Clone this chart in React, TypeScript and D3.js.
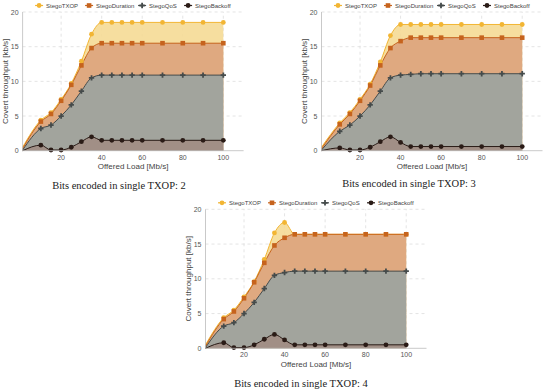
import React from 'react';
import * as d3 from 'd3';

// offered load [Mb/s]
const loads = [1, 10, 15, 20, 25, 30, 35, 40, 45, 50, 55, 60, 70, 80, 90, 100];

const seriesNames = ['StegoTXOP', 'StegoDuration', 'StegoQoS', 'StegoBackoff'];

// bits encoded: 2
const txop2 = [0.5, 4.4, 5.5, 7.4, 9.7, 12.9, 16.8, 18.5, 18.5, 18.5, 18.5, 18.5, 18.5, 18.5, 18.5, 18.5];
const duration2 = [0.3, 4.2, 5.3, 7.2, 9.5, 12.3, 14.8, 15.5, 15.5, 15.5, 15.5, 15.5, 15.5, 15.5, 15.5, 15.5];
const qos2 = [0.1, 3.2, 3.7, 5.0, 6.6, 8.6, 10.5, 10.9, 10.9, 10.9, 10.9, 10.9, 10.9, 10.9, 10.9, 10.9];
const backoff2 = [0.0, 0.8, 0.1, 0.1, 0.5, 1.3, 2.0, 1.5, 1.5, 1.5, 1.5, 1.5, 1.5, 1.5, 1.5, 1.5];

// bits encoded: 3
const txop3 = [0.5, 4.0, 5.5, 7.4, 9.6, 12.8, 16.6, 18.2, 18.2, 18.2, 18.2, 18.2, 18.2, 18.2, 18.2, 18.2];
const duration3 = [0.3, 3.8, 5.3, 7.2, 9.4, 12.3, 14.8, 15.8, 16.3, 16.3, 16.3, 16.3, 16.3, 16.3, 16.3, 16.3];
const qos3 = [0.1, 2.8, 3.7, 5.0, 6.6, 8.6, 10.5, 10.9, 11.0, 11.1, 11.1, 11.1, 11.1, 11.1, 11.1, 11.1];
const backoff3 = [0.0, 0.4, 0.1, 0.1, 0.5, 1.3, 2.0, 1.2, 0.6, 0.6, 0.6, 0.6, 0.6, 0.6, 0.6, 0.6];

// bits encoded: 4
const txop4 = [0.5, 4.4, 5.5, 7.4, 9.6, 12.8, 16.6, 18.1, 16.4, 16.4, 16.4, 16.4, 16.4, 16.4, 16.4, 16.4];
const duration4 = [0.3, 4.2, 5.3, 7.2, 9.5, 12.3, 14.8, 15.9, 16.4, 16.4, 16.4, 16.4, 16.4, 16.4, 16.4, 16.4];
const qos4 = [0.1, 3.2, 3.7, 5.0, 6.6, 8.6, 10.5, 10.9, 11.1, 11.1, 11.1, 11.1, 11.1, 11.1, 11.1, 11.1];
const backoff4 = [0.0, 0.8, 0.1, 0.1, 0.5, 1.3, 2.0, 1.2, 0.5, 0.5, 0.5, 0.5, 0.5, 0.5, 0.5, 0.5];

const xTicks = [20, 40, 60, 80, 100];
const yTicks = [0, 5, 10, 15, 20];

const lineColors = ['#f2b533', '#c6631d', '#454b4b', '#2a1b16'];
const fillColors = ['#f5d992', '#dca27c', '#9aa3a0', '#a08c83'];
const legendOffsets = [0, 50, 103, 149];

if (typeof document !== 'undefined') document.body.style.margin = '0';

function Marker({ kind, x, y }: { kind: number; x: number; y: number }) {
  const c = lineColors[kind];
  if (kind === 1) return <rect x={x - 2.3} y={y - 2.3} width={4.6} height={4.6} fill={c} />;
  if (kind === 2) {
    const p = d3.symbol().type(d3.symbolCross).size(16)();
    return <path d={p || ''} transform={`translate(${x},${y})`} fill={c} />;
  }
  return <circle cx={x} cy={y} r={2.4} fill={c} />;
}

function Panel({ left, top, bottom, series, title, titleX, titleY }: any) {
  const x = d3.scaleLinear().domain([1, 110]).range([left, left + 221]);
  const y = d3.scaleLinear().domain([0, 20]).range([bottom, top]);
  const [x0, x1] = x.range();
  const mid = (x0 + x1) / 2;

  const area = d3.area<number>()
    .x((d, i) => x(loads[i]))
    .y0(y(0))
    .y1(d => y(d))
    .curve(d3.curveMonotoneX);
  const line = d3.line<number>()
    .x((d, i) => x(loads[i]))
    .y(d => y(d))
    .curve(d3.curveMonotoneX);

  const legendStart = mid - 98;

  return (
    <g fontFamily="Liberation Sans, Arial, sans-serif">
      {/* grid */}
      {xTicks.map(t => (
        <line key={'gx' + t} x1={x(t)} x2={x(t)} y1={y(0)} y2={y(20)} stroke="#d8d8d8" strokeWidth={0.7} strokeDasharray="3,3" />
      ))}
      {yTicks.slice(1).map(t => (
        <line key={'gy' + t} x1={x0} x2={x1} y1={y(t)} y2={y(t)} stroke="#d8d8d8" strokeWidth={0.7} strokeDasharray="3,3" />
      ))}

      {series.map((s: number[], k: number) => (
        <path key={'a' + k} d={area(s) || ''} fill={fillColors[k]} fillOpacity={0.88} />
      ))}
      {series.map((s: number[], k: number) => (
        <path key={'l' + k} d={line(s) || ''} fill="none" stroke={lineColors[k]} strokeWidth={1} />
      ))}
      {series.map((s: number[], k: number) => (
        <g key={'m' + k}>
          {s.map((v, i) => i === 0 ? null : <Marker key={i} kind={k} x={x(loads[i])} y={y(v)} />)}
        </g>
      ))}

      {/* axes */}
      <line x1={x0} x2={x0} y1={y(0)} y2={y(20)} stroke="#bbb" strokeWidth={0.8} />
      <line x1={x0} x2={x1} y1={y(0)} y2={y(0)} stroke="#bbb" strokeWidth={0.8} />
      {yTicks.map(t => (
        <text key={'ty' + t} x={x0 - 4} y={y(t) + 2.5} textAnchor="end" fontSize={7} fill="#555">{t}</text>
      ))}
      {xTicks.map(t => (
        <text key={'tx' + t} x={x(t)} y={y(0) + 9} textAnchor="middle" fontSize={7} fill="#555">{t}</text>
      ))}
      <text x={mid} y={y(0) + 18.5} textAnchor="middle" fontSize={8} fill="#444">Offered Load [Mb/s]</text>
      <text transform={`translate(${x0 - 15},${(y(0) + y(20)) / 2}) rotate(-90)`} textAnchor="middle" fontSize={8} fill="#444">
        Covert throughput [kb/s]
      </text>

      {/* legend */}
      {seriesNames.map((n, k) => {
        const lx = legendStart + legendOffsets[k];
        const ly = top - 6.5;
        return (
          <g key={'lg' + k}>
            <line x1={lx} x2={lx + 8} y1={ly} y2={ly} stroke={lineColors[k]} strokeWidth={1.2} />
            <Marker kind={k} x={lx + 4} y={ly} />
            <text x={lx + 11} y={ly + 2.2} fontSize={6} fill="#444">{n}</text>
          </g>
        );
      })}

      <text x={titleX} y={titleY} textAnchor="middle" fontSize={10.5} fill="#222" fontFamily="Liberation Serif, serif">
        {title}
      </text>
    </g>
  );
}

export default function App() {
  return (
    <svg width={550} height={392} style={{ display: 'block', background: '#fff' }}>
      <Panel left={22.6} top={12} bottom={150.7} series={[txop2, duration2, qos2, backoff2]}
        title="Bits encoded in single TXOP: 2" titleX={119} titleY={189} />
      <Panel left={321.5} top={12} bottom={150.7} series={[txop3, duration3, qos3, backoff3]}
        title="Bits encoded in single TXOP: 3" titleX={409} titleY={186.5} />
      <Panel left={205.5} top={209.3} bottom={348.3} series={[txop4, duration4, qos4, backoff4]}
        title="Bits encoded in single TXOP: 4" titleX={301} titleY={386.5} />
    </svg>
  );
}
